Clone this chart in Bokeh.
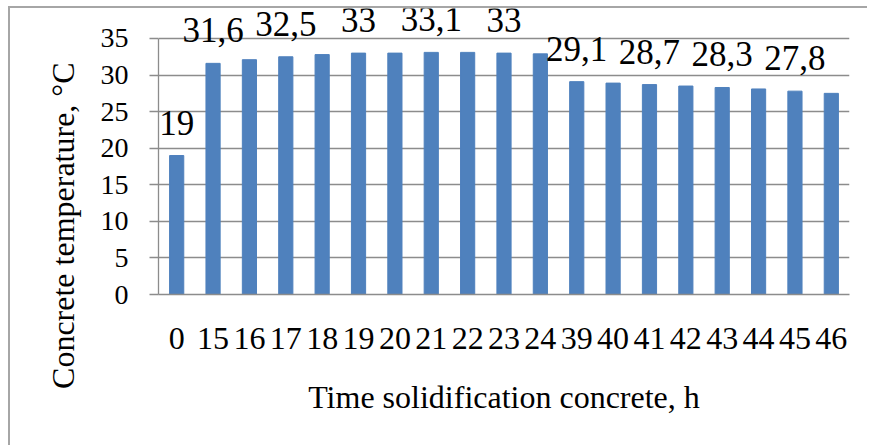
from bokeh.plotting import figure
from bokeh.models import ColumnDataSource, FactorRange, Range1d, FixedTicker, Label, Title
from bokeh.embed import file_html
from bokeh.resources import INLINE

# ---- data ----
hours = ["0", "15", "16", "17", "18", "19", "20", "21", "22", "23", "24",
         "39", "40", "41", "42", "43", "44", "45", "46"]
temps = [19.0, 31.6, 32.1, 32.5, 32.8, 33.0, 33.0, 33.1, 33.1, 33.0, 32.9,
         29.1, 28.9, 28.7, 28.5, 28.3, 28.1, 27.8, 27.5]
labelled_idx = [0, 1, 3, 5, 7, 9, 11, 13, 15, 17]
y_ticks = [0, 5, 10, 15, 20, 25, 30, 35]
x_title = "Time solidification concrete, h"
y_title = "Concrete temperature, °C"

FONT = "'Liberation Serif'"
GRID = "#8c8c8c"
BAR = "#4F81BD"

src = ColumnDataSource(dict(x=hours, top=temps))

# frame is extended above 35 so the value labels above the bars are not clipped
p = figure(width=859, height=439, x_range=FactorRange(*hours),
           y_range=Range1d(0, 39.1), output_backend="svg", toolbar_location=None,
           min_border_left=148, min_border_right=20, min_border_top=0,
           min_border_bottom=153)
p.margin = (6, 0, 0, 8)
p.styles = {"border-top": "2px solid #a6a6a6", "border-left": "2px solid #a6a6a6"}

p.vbar(x="x", top="top", width=0.39, source=src, fill_color=BAR, line_color=BAR)

# value labels: category i sits at synthetic coordinate i + 0.5 of the factor range
for i in labelled_idx:
    p.add_layout(Label(x=i + 0.5, y=temps[i], text=f"{temps[i]:g}".replace(".", ","),
                       text_align="center", text_baseline="alphabetic", y_offset=33,
                       text_font=FONT, text_font_size="35px", text_color="black"))

p.outline_line_color = None
p.xgrid.grid_line_color = None
p.ygrid.grid_line_color = GRID
p.ygrid.grid_line_width = 1.3

p.yaxis.ticker = FixedTicker(ticks=y_ticks)
p.yaxis.bounds = (0, 35)
p.yaxis.axis_line_color = GRID
p.yaxis.axis_line_width = 1.3
p.yaxis.major_tick_line_color = GRID
p.yaxis.major_tick_line_width = 1.3
p.yaxis.major_tick_out = 9
p.yaxis.major_tick_in = 0
p.yaxis.minor_tick_line_color = None
p.yaxis.major_label_standoff = 21
p.yaxis.major_label_text_font = FONT
p.yaxis.major_label_text_font_size = "28px"
p.yaxis.major_label_text_color = "black"

p.xaxis.axis_line_color = GRID
p.xaxis.axis_line_width = 1.3
p.xaxis.major_tick_line_color = None
p.xaxis.minor_tick_line_color = None
p.xaxis.major_tick_out = 0
p.xaxis.major_tick_in = 0
p.xaxis.major_label_standoff = 33
p.xaxis.major_label_text_font = FONT
p.xaxis.major_label_text_font_size = "32px"
p.xaxis.major_label_text_color = "black"
p.xaxis.axis_label = x_title
p.xaxis.axis_label_text_font = FONT
p.xaxis.axis_label_text_font_size = "32px"
p.xaxis.axis_label_text_font_style = "normal"
p.xaxis.axis_label_text_color = "black"
p.xaxis.axis_label_standoff = 27

# y-axis title (placed lower than the frame centre, as in the original)
p.add_layout(Title(text=y_title, align="right", offset=54, standoff=34,
                   text_font=FONT, text_font_size="32px", text_font_style="normal",
                   text_color="black"), "left")

open("out.html", "w").write(file_html(p, INLINE))
